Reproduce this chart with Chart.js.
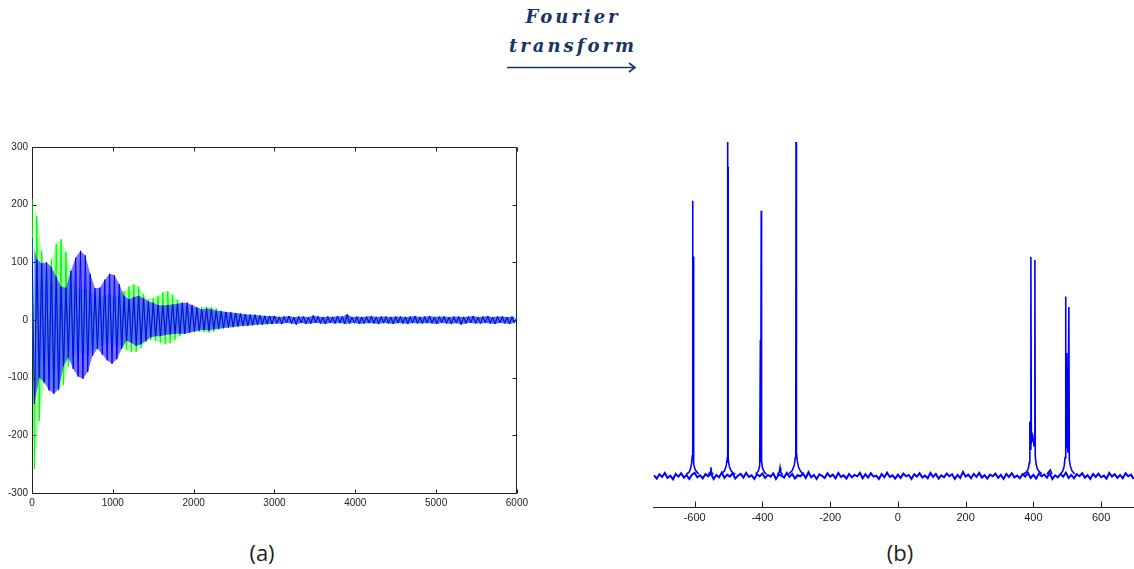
<!DOCTYPE html>
<html>
<head>
<meta charset="utf-8">
<script src="https://cdn.jsdelivr.net/npm/chart.js@4/dist/chart.umd.min.js"></script>
<style>
  html, body { margin: 0; padding: 0; background: #fff; }
  body { width: 1134px; height: 569px; position: relative; overflow: hidden; }
  canvas { position: absolute; }
  #fid { left: 0; top: 137px; }
  #spec { left: 653px; top: 140px; }
  .title {
    position: absolute; left: 573px; top: 2px; transform: translateX(-50%);
    font-family: "DejaVu Serif", serif; font-weight: bold; font-style: italic;
    font-size: 18px; letter-spacing: 3px; line-height: 29px; color: #1a3565;
    text-align: center; white-space: nowrap;
  }
  .label {
    position: absolute; transform: translate(-50%, -50%);
    font-family: "Open Sans", sans-serif; font-size: 22px; color: #1e1e1e;
  }
  svg { position: absolute; left: 0; top: 0; }
</style>
</head>
<body>
<div class="title">Fourier<br>transform</div>
<svg width="1134" height="90">
  <line x1="507" y1="67.5" x2="635" y2="67.5" stroke="#1a3565" stroke-width="1.6"/>
  <polyline points="629,63 635,67.5 629,72" fill="none" stroke="#1a3565" stroke-width="1.6"/>
</svg>
<canvas id="fid" width="532" height="378"></canvas>
<canvas id="spec" width="481" height="395"></canvas>
<div class="label" style="left:262px; top:552px;">(a)</div>
<div class="label" style="left:900px; top:552px;">(b)</div>
<script>
// (a) free induction decay, one value per sample (sample interval 30)
const fidSampleInterval = 30;
const fidTicksX = [0, 1000, 2000, 3000, 4000, 5000, 6000];
const fidTicksY = [-300, -200, -100, 0, 100, 200, 300];

const fidGreen = [
  210, -258, 180, -175, 120, -110, 80, -100, 105, -118,
  132, -122, 140, -112, 118, -80, 85, -62, 60, -55,
  52, -58, 55, -60, 50, -52, 45, -48, 40, -45,
  42, -40, 45, -42, 40, -44, 45, -46, 50, -52,
  58, -56, 62, -55, 58, -48, 45, -38, 36, -34,
  38, -36, 42, -40, 48, -42, 50, -40, 44, -34,
  35, -28, 28, -24, 24, -22, 22, -20, 21, -20,
  22, -21, 23, -22, 22, -20, 20, -17, 16, -15,
  14, -13, 14, -13, 12, -12, 12, -11, 10, -10,
  10, -9, 9, -9, 8, -8, 8, -8, 7, -7,
  7,
  -5, 6, -6, 5, -4, 6, -5, 5, -6, 4,
  -5, 6, -5, 4, -6, 5, -5, 6, -4, 5,
  -6, 5, -5, 6, -5, 4, -6, 5, -5, 6,
  -4, 5, -6, 5, -5, 6, -5, 4, -6, 5,
  -5, 6, -4, 5, -6, 5, -5, 6, -5, 4,
  -6, 5, -5, 6, -4, 5, -6, 5, -5, 6,
  -5, 4, -6, 5, -5, 6, -5, 5, -4, 6,
  -6, 5, -5, 4, -6, 5, -5, 6, -5, 5,
  -4, 6, -5, 5, -6, 4, -5, 6, -5, 5,
  -6, 5, -4, 6, -5, 5, -6, 4, -5, 5
];

const fidBlue = [
  142, -145, 105, -100, 98, -108, 100, -122, 92, -128,
  75, -120, 58, -80, 56, -65, 85, -85, 108, -98,
  120, -102, 112, -90, 80, -62, 55, -50, 56, -60,
  70, -70, 80, -76, 78, -68, 62, -50, 42, -36,
  36, -40, 40, -45, 42, -42, 38, -36, 32, -30,
  30, -28, 26, -28, 25, -26, 26, -25, 27, -24,
  28, -24, 30, -24, 30, -22, 26, -20, 22, -18,
  18, -17, 20, -18, 19, -16, 16, -15, 15, -14,
  14, -13, 13, -12, 12, -11, 11, -10, 10, -10,
  9, -9, 9, -8, 8, -8, 7, -7, 7, -7,
  7,
  -6, 5, -7, 6, -5, 7, -6, 5, -8, 6,
  -5, 6, -7, 5, -6, 8, -5, 6, -6, 5,
  -7, 6, -5, 5, -6, 7, -5, 6, -7, 10,
  -6, 5, -5, 6, -7, 5, -6, 6, -5, 7,
  -6, 5, -7, 6, -5, 6, -6, 5, -7, 6,
  -5, 6, -6, 5, -7, 6, -5, 7, -6, 5,
  -6, 6, -5, 7, -6, 5, -7, 6, -5, 6,
  -6, 5, -7, 6, -5, 6, -8, 5, -6, 6,
  -5, 7, -6, 5, -6, 6, -5, 7, -6, 5,
  -7, 6, -5, 6, -6, 5, -7, 6, -5, 5
];

// (b) spectrum: baseline noise on a regular frequency grid, plus the peak lines
const specTicks = [-600, -400, -200, 0, 200, 400, 600];
const baselineStart = -720;
const baselineStep = 8;
const baselineNoise = [
  0.2, -0.8, 0.5, -0.3, 0.9, -0.6, 0.1, -1.0, 0.6, -0.2,
  0.8, -0.5, 0.3, -0.9, 0.4, 0.9, -0.4, 0.2, -0.7, 0.6,
  -0.1, 0.7, -0.9, 0.3, -0.4, 1.0, -0.6, 0.4, -0.2, 0.8,
  -0.8, 0.1, 0.6, -0.5, 0.9, -0.3, 0.2, -0.9, 0.5, -0.1,
  0.7, -0.6, 0.3, -0.2, 0.8, -0.9, 0.4, 0.1, -0.5, 0.9,
  -0.3, 0.6, -0.8, 0.2, -0.1, 0.7, -0.6, 1.1, -0.4, 0.3,
  -0.9, 0.5, 0.0, -0.6, 0.8, -0.2, 0.4, -0.7, 0.9, -0.3,
  0.2, -0.8, 0.6, -0.4, 0.3, -0.1, 0.9, -0.7, 0.5, -0.5,
  0.8, -0.2, 0.1, -0.9, 0.6, -0.4, 1.0, -0.3, 0.2, -0.8,
  0.4, -0.6, 0.7, -0.1, 0.3, -0.9, 0.5, -0.2, 0.8, -0.5,
  0.1, -0.7, 0.9, -0.3, 0.6, -0.8, 0.2, -0.4, 0.7, -0.1,
  0.5, -0.9, 0.3, -0.6, 1.2, -0.2, 0.4, -0.7, 0.6, -0.3,
  0.9, -0.5, 0.2, -0.8, 0.4, -0.1, 0.7, -0.6, 0.3, -0.9,
  0.6, -0.3, 0.8, -0.4, 0.1, -0.7, 0.5, -0.2, 0.9, -0.6,
  0.3, -0.8, 0.7, -0.1, 0.4, -0.5, 0.8, -0.9, 0.2, -0.4,
  0.6, -0.2, 1.0, -0.6, 0.3, -0.7, 0.5, -0.1, 0.8, -0.5,
  0.2, -0.9, 0.6, -0.3, 0.7, -0.4, 0.1, -0.8, 0.9, -0.2,
  0.5, -0.6, 0.3, -0.7, 0.8, -0.1, 0.4, -0.9
];

// peak clusters, null separates them
const peakFreq = [
  -625, -616, -612, -609, -607, -606, -605.3, -604.6, -604, -602, -599, -594, -588, null,
  -560, -554, -552, -550, -545, null,
  -522, -512, -507, -504, -503, -502.5, -502, -501.5, -501, -498, -494, -488, -480, null,
  -420, -412, -408, -406, -405, -403.5, -402.5, -400, -395, -388, null,
  -356, -350, -348, -346, -340, null,
  -322, -312, -306, -303, -301.5, -300.5, -299.5, -297, -293, -287, -280, null,
  370, 380, 385, 388, 389.5, 391, 392.6, 394, 398, 402, 404.4, 405.5, 408, 412, 418, 425, null,
  440, 447, 450, 455, null,
  480, 487, 491, 493.5, 495, 496, 497.5, 498.5, 500, 502, 504.7, 506, 509, 514, 522
];
const peakInt = [
  0.5, 1.2, 2.2, 3.8, 6, 82.4, 8, 65.7, 6, 3.5, 2, 1.2, 0.6, null,
  0.5, 1.2, 2.6, 1, 0.4, null,
  0.6, 1.5, 3, 5, 4, 130, 4.5, 92.6, 5, 3, 1.8, 1, 0.5, null,
  0.6, 1.5, 3, 40.7, 4, 79.4, 4.5, 2.5, 1.2, 0.5, null,
  0.4, 1.2, 2.5, 1, 0.4, null,
  0.6, 1.6, 3.2, 5.5, 14.7, 130, 7, 4.5, 2.5, 1.3, 0.6, null,
  0.5, 1.2, 2.2, 4, 16.3, 8, 65.6, 10, 12, 9, 64.7, 6, 3.5, 2, 1.2, 0.6, null,
  0.5, 1.5, 1.8, 0.6, null,
  0.6, 1.5, 3, 5.5, 53.7, 8, 20.7, 36.8, 9, 7, 50.6, 5, 3, 1.5, 0.6
];

const tickFont = { family: 'Liberation Sans, Arial, sans-serif', size: 10 };
const narrowFont = { family: 'Liberation Sans Narrow, Liberation Sans, sans-serif', size: 11 };

// axis box / tick marks pointing into the plot (drawn under the data)
const frameTicks = {
  id: 'frameTicks',
  beforeDatasetsDraw(chart, args, opts) {
    const { ctx, chartArea: a, scales } = chart;
    const L = Math.round(a.left) + 0.5, R = Math.round(a.right) - 0.5;
    const T = Math.round(a.top) + 0.5, B = Math.round(a.bottom) + 0.5;
    const len = opts.len;
    ctx.save();
    ctx.strokeStyle = opts.color;
    ctx.lineWidth = 1;
    ctx.beginPath();
    if (opts.box) {
      ctx.rect(L, T, R - L, B - T);
    } else {
      ctx.moveTo(a.left, B);
      ctx.lineTo(a.right, B);
    }
    scales.x.ticks.forEach(t => {
      const px = Math.round(scales.x.getPixelForValue(t.value)) + 0.5;
      ctx.moveTo(px, B); ctx.lineTo(px, B - len);
      if (opts.box) { ctx.moveTo(px, T); ctx.lineTo(px, T + len); }
    });
    if (opts.box) {
      scales.y.ticks.forEach(t => {
        const py = Math.round(scales.y.getPixelForValue(t.value)) + 0.5;
        ctx.moveTo(L, py); ctx.lineTo(L + len, py);
        ctx.moveTo(R, py); ctx.lineTo(R - len, py);
      });
    }
    ctx.stroke();
    ctx.restore();
  }
};

function baseOptions() {
  return {
    animation: false,
    responsive: false,
    maintainAspectRatio: false,
    events: [],
    plugins: { legend: { display: false }, tooltip: { enabled: false } },
    elements: { point: { radius: 0 }, line: { tension: 0 } }
  };
}

const noGrid = { display: false, drawTicks: false, tickLength: 0 };
const plainLabel = v => String(v);

const fidOptions = baseOptions();
fidOptions.layout = { padding: { top: 0, right: 13, left: 0, bottom: 0 } };
fidOptions.plugins.frameTicks = { box: true, len: 4, color: '#222' };
fidOptions.scales = {
  x: {
    type: 'linear', min: 0, max: 6000,
    afterBuildTicks: s => { s.ticks = fidTicksX.map(v => ({ value: v })); },
    afterFit: s => { s.height = 22; },
    grid: noGrid, border: { display: false },
    ticks: { padding: 4, font: tickFont, color: '#222', maxRotation: 0, autoSkip: false, callback: plainLabel }
  },
  y: {
    type: 'linear', min: -300, max: 300,
    afterBuildTicks: s => { s.ticks = fidTicksY.map(v => ({ value: v })); },
    afterFit: s => { s.width = 32; },
    grid: noGrid, border: { display: false },
    ticks: { padding: 4, font: tickFont, color: '#222', autoSkip: false, callback: plainLabel }
  }
};

// the oscillation itself, plus a lighter band between its positive and negative swings
const toPoints = arr => arr.map((v, i) => ({ x: i * fidSampleInterval, y: v }));
const upperOf = arr => toPoints(arr).filter(p => p.y >= 0);
const lowerOf = arr => toPoints(arr).filter(p => p.y < 0);

new Chart(document.getElementById('fid'), {
  type: 'line',
  data: {
    datasets: [
      { data: toPoints(fidBlue), borderColor: '#0000ff', borderWidth: 1 },
      { data: upperOf(fidBlue), borderWidth: 0, borderColor: 'rgba(0,0,0,0)', backgroundColor: 'rgba(20,20,255,0.6)', fill: '+1' },
      { data: lowerOf(fidBlue), borderWidth: 0, borderColor: 'rgba(0,0,0,0)' },
      { data: toPoints(fidGreen), borderColor: '#00ff00', borderWidth: 1 },
      { data: upperOf(fidGreen), borderWidth: 0, borderColor: 'rgba(0,0,0,0)', backgroundColor: 'rgba(0,255,0,0.3)', fill: '+1' },
      { data: lowerOf(fidGreen), borderWidth: 0, borderColor: 'rgba(0,0,0,0)' }
    ]
  },
  options: fidOptions,
  plugins: [frameTicks]
});

const specOptions = baseOptions();
specOptions.layout = { padding: { top: 2, right: 0, left: 0, bottom: 0 } };
specOptions.plugins.frameTicks = { box: false, len: 6, color: '#222' };
specOptions.scales = {
  x: {
    type: 'linear', min: -723, max: 697,
    afterBuildTicks: s => { s.ticks = specTicks.map(v => ({ value: v })); },
    afterFit: s => { s.height = 28; },
    grid: noGrid, border: { display: false },
    ticks: { padding: 4, font: narrowFont, color: '#222', maxRotation: 0, autoSkip: false, callback: plainLabel }
  },
  y: { display: false, min: -9.3, max: 100 }
};

new Chart(document.getElementById('spec'), {
  type: 'line',
  data: {
    datasets: [
      {
        data: peakFreq.map((f, i) => (f === null ? { x: null, y: null } : { x: f, y: peakInt[i] })),
        borderColor: '#0000ff', borderWidth: 1.6, spanGaps: false
      },
      {
        data: baselineNoise.map((v, i) => ({ x: baselineStart + i * baselineStep, y: v })),
        borderColor: '#0000ff', borderWidth: 2
      }
    ]
  },
  options: specOptions,
  plugins: [frameTicks]
});
</script>
</body>
</html>
